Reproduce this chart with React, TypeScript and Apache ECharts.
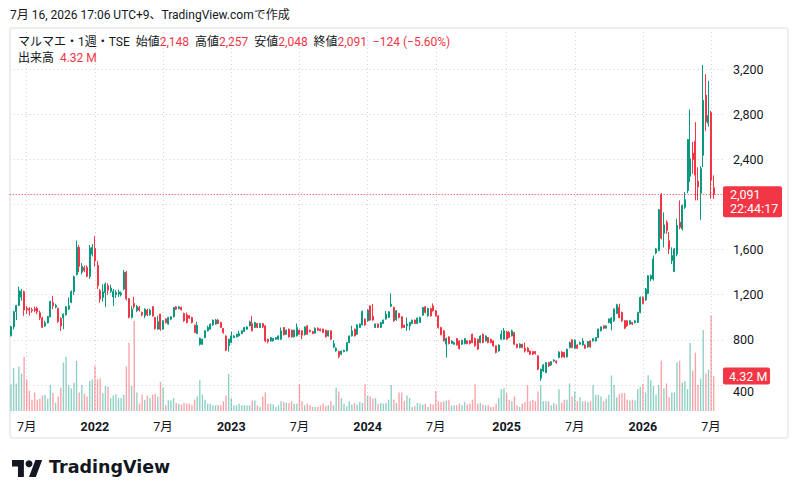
import React, { useEffect, useRef } from "react";
import * as echarts from "echarts";

// ---- data (weekly candles, [open, close, low, high]) ----
const START_DATE = "2021-05-24";
const EMPTY_SLOTS = 3;
const TITLE = "7月 16, 2026 17:06 UTC+9、TradingView.comで作成";
const SYMBOL = "マルマエ・1週・TSE";
const COUNTDOWN = "22:44:17";

const candles: number[][] = [
  [836, 916, 830, 924], [916, 1049, 892, 1058], [1050, 1105, 975, 1111], [1105, 1236, 1100, 1271], [1180, 1230, 1147, 1250],
  [1227, 1064, 1013, 1236], [1080, 1068, 1030, 1100], [1075, 1062, 1015, 1090], [1068, 1058, 1040, 1085], [1075, 1060, 1045, 1095],
  [1080, 1049, 1028, 1093], [1040, 993, 975, 1058], [993, 910, 904, 1005], [924, 951, 915, 969], [951, 1007, 945, 1013],
  [1004, 1141, 1000, 1147], [1132, 1102, 1073, 1191], [1090, 1105, 1080, 1120], [1079, 963, 950, 1085], [990, 924, 880, 1000],
  [993, 1028, 895, 1035], [1022, 1093, 1015, 1100], [1073, 1102, 1065, 1176], [1132, 1227, 1125, 1240], [1227, 1360, 1200, 1370],
  [1380, 1620, 1370, 1680], [1620, 1452, 1400, 1640], [1400, 1452, 1380, 1480], [1440, 1415, 1400, 1460], [1443, 1363, 1355, 1460],
  [1363, 1615, 1340, 1640], [1560, 1620, 1540, 1650], [1610, 1500, 1450, 1718], [1460, 1280, 1250, 1500], [1236, 1162, 1130, 1250],
  [1176, 1227, 1140, 1290], [1220, 1295, 1090, 1310], [1280, 1240, 1200, 1300], [1230, 1260, 1215, 1290], [1180, 1230, 1100, 1250],
  [1200, 1220, 1170, 1240], [1205, 1225, 1180, 1245], [1200, 1215, 1185, 1230], [1250, 1400, 1240, 1420], [1400, 1165, 1150, 1410],
  [1165, 1000, 990, 1170], [998, 1072, 990, 1102], [1123, 1093, 1075, 1182], [1058, 1096, 1045, 1110], [1087, 1064, 1050, 1100],
  [1043, 1022, 1010, 1050], [1013, 1072, 992, 1080], [1064, 1022, 1010, 1075], [1022, 1064, 1015, 1075], [1093, 1013, 1005, 1100],
  [998, 900, 890, 1005], [895, 960, 890, 1013], [1028, 895, 880, 1030], [895, 969, 890, 975], [984, 954, 945, 990],
  [940, 998, 935, 1005], [984, 1004, 975, 1010], [1004, 1087, 1000, 1090], [1093, 1072, 1065, 1100], [1078, 1093, 1070, 1100],
  [1087, 1066, 1060, 1095], [1034, 969, 960, 1040], [1022, 954, 945, 1043], [1013, 993, 985, 1020], [998, 954, 945, 1005],
  [930, 865, 860, 935], [856, 930, 850, 960], [761, 815, 750, 820], [761, 806, 755, 810], [820, 880, 815, 885],
  [880, 910, 875, 925], [895, 939, 890, 945], [933, 975, 925, 980], [940, 975, 935, 985], [975, 945, 940, 985],
  [954, 910, 905, 960], [900, 865, 855, 905], [835, 708, 700, 840], [747, 806, 696, 810], [776, 835, 770, 874],
  [820, 835, 815, 840], [827, 850, 820, 855], [835, 856, 830, 880], [856, 880, 850, 885], [874, 910, 870, 915],
  [895, 915, 890, 920], [924, 960, 920, 970], [945, 880, 875, 1013], [910, 954, 905, 960], [945, 910, 905, 950],
  [910, 945, 905, 950], [945, 915, 905, 950], [924, 791, 780, 930], [806, 785, 770, 810], [791, 820, 785, 825],
  [791, 812, 785, 815], [806, 820, 800, 825], [806, 835, 800, 840], [806, 880, 800, 910], [910, 845, 840, 915],
  [850, 886, 845, 890], [895, 827, 820, 900], [886, 827, 820, 890], [827, 886, 820, 890], [835, 910, 830, 945],
  [886, 850, 845, 890], [880, 841, 805, 885], [845, 915, 840, 920], [924, 850, 845, 930], [886, 874, 865, 890],
  [874, 856, 850, 880], [860, 904, 855, 910], [904, 886, 880, 910], [895, 880, 875, 900], [895, 865, 860, 900],
  [886, 827, 820, 890], [835, 880, 830, 885], [880, 806, 800, 885], [737, 767, 726, 797], [702, 726, 695, 735],
  [697, 652, 637, 705], [672, 702, 665, 705], [696, 708, 690, 712], [702, 776, 698, 780], [776, 835, 770, 840],
  [835, 880, 830, 925], [895, 835, 830, 900], [850, 933, 845, 940], [910, 940, 905, 945], [933, 1052, 928, 1060],
  [984, 933, 925, 990], [969, 1064, 960, 1070], [1102, 975, 970, 1105], [1010, 975, 970, 1117], [910, 940, 905, 945],
  [940, 910, 905, 945], [910, 954, 905, 960], [945, 975, 940, 980], [984, 1028, 980, 1058], [999, 1049, 995, 1055],
  [1099, 1117, 1090, 1212], [1087, 969, 960, 1095], [978, 1058, 970, 1065], [1034, 999, 990, 1040], [1005, 910, 900, 1010],
  [930, 910, 905, 935], [924, 940, 880, 999], [924, 954, 885, 960], [945, 975, 940, 980], [975, 945, 940, 980],
  [945, 993, 940, 998], [954, 999, 950, 1005], [1019, 1087, 1015, 1092], [1093, 1043, 1035, 1100], [1013, 1078, 1005, 1085],
  [1078, 1013, 1005, 1085], [1102, 1058, 1050, 1123], [1058, 1013, 1005, 1065], [1013, 910, 900, 1020], [910, 845, 840, 915],
  [880, 791, 785, 885], [762, 812, 643, 820], [827, 767, 760, 830], [770, 790, 765, 795], [762, 776, 755, 785],
  [812, 755, 750, 815], [791, 723, 715, 795], [762, 797, 755, 800], [767, 812, 760, 815], [791, 767, 760, 795],
  [791, 767, 760, 800], [850, 776, 770, 855], [812, 747, 740, 820], [806, 717, 710, 810], [776, 833, 770, 840],
  [850, 776, 770, 855], [791, 835, 785, 840], [820, 776, 770, 825], [806, 776, 770, 810], [791, 747, 740, 795],
  [747, 688, 680, 750], [702, 755, 695, 760], [806, 850, 800, 885], [806, 880, 800, 905], [870, 806, 800, 880],
  [865, 821, 815, 880], [835, 880, 830, 890], [865, 762, 755, 870], [762, 732, 725, 765], [732, 762, 725, 770],
  [762, 732, 725, 765], [726, 702, 688, 776], [726, 696, 690, 735], [702, 673, 665, 705], [696, 673, 665, 700],
  [696, 680, 670, 700], [658, 540, 530, 665], [460, 540, 436, 545], [524, 578, 515, 585], [510, 598, 505, 605],
  [598, 569, 560, 605], [578, 607, 570, 612], [613, 622, 605, 628], [613, 598, 590, 618], [643, 693, 638, 700],
  [693, 649, 640, 700], [688, 649, 640, 695], [649, 717, 645, 722], [732, 776, 725, 785], [800, 732, 725, 805],
  [726, 797, 720, 805], [755, 726, 720, 760], [762, 776, 755, 785], [755, 791, 750, 815], [755, 726, 720, 760],
  [738, 785, 730, 790], [791, 738, 730, 795], [791, 812, 785, 815], [791, 821, 785, 825], [821, 895, 815, 900],
  [880, 915, 875, 920], [924, 904, 895, 930], [904, 924, 898, 930], [954, 984, 948, 990], [945, 993, 886, 1000],
  [969, 1073, 960, 1080], [1034, 1111, 1030, 1120], [1087, 999, 990, 1120], [1043, 969, 960, 1050], [969, 904, 895, 975],
  [969, 925, 915, 975], [940, 969, 935, 975], [954, 940, 930, 960], [954, 969, 945, 975], [954, 1043, 950, 1050],
  [1043, 1176, 1035, 1185], [1176, 1123, 1115, 1185], [1153, 1250, 1145, 1260], [1212, 1369, 1205, 1375], [1339, 1369, 1320, 1380],
  [1339, 1517, 1325, 1547], [1570, 1606, 1560, 1615], [1591, 1953, 1585, 1960], [2090, 1700, 1690, 2100], [1745, 1820, 1620, 1930],
  [1840, 1770, 1740, 1860], [1680, 1606, 1560, 1755], [1502, 1547, 1473, 1620], [1407, 1606, 1400, 1615], [1560, 1813, 1540, 1873],
  [1843, 1798, 1780, 2036], [1784, 1991, 1770, 2000], [1976, 2042, 1960, 2110], [2124, 2575, 2100, 2580], [2249, 2406, 2200, 2842],
  [2456, 2397, 2273, 2554], [2560, 2260, 2036, 2730], [2207, 2154, 2036, 2330], [2100, 2317, 1864, 2340], [2436, 2924, 2330, 3236],
  [2969, 2732, 2650, 3156], [2720, 2790, 2690, 3096], [2815, 2215, 2050, 2830], [2148, 2091, 2048, 2257],
];

// weekly volume, millions of shares
const volumes: number[] = [
  3.3, 5.3, 3.4, 5.5, 4.6, 6.7, 3.9, 2.5, 1.4, 2.3,
  1.4, 1.5, 1.9, 2.0, 1.5, 3.2, 2.2, 1.0, 1.8, 2.9,
  6.0, 6.7, 3.2, 2.8, 3.5, 6.2, 2.3, 3.2, 2.1, 1.8,
  3.7, 3.9, 5.6, 3.9, 4.0, 2.2, 3.1, 3.0, 1.6, 1.9,
  2.1, 1.6, 1.6, 2.0, 5.5, 8.4, 3.1, 11.1, 2.3, 0.9,
  2.0, 1.4, 1.9, 1.6, 2.0, 2.1, 1.8, 3.6, 2.9, 0.7,
  1.3, 1.3, 1.6, 1.0, 0.9, 0.8, 1.0, 0.9, 0.9, 0.7,
  1.4, 1.8, 3.8, 2.0, 1.4, 0.9, 0.9, 0.7, 0.7, 0.7,
  0.7, 1.2, 1.9, 4.6, 1.6, 0.7, 0.7, 0.9, 0.7, 0.7,
  0.7, 0.7, 1.3, 1.3, 0.7, 0.5, 1.8, 2.3, 0.9, 0.9,
  0.8, 0.5, 0.7, 1.2, 1.1, 1.0, 1.0, 1.2, 0.9, 0.9,
  3.3, 1.2, 0.7, 0.9, 0.7, 0.5, 0.5, 0.5, 0.7, 0.9,
  0.6, 0.7, 1.2, 0.7, 2.9, 2.4, 1.6, 0.9, 0.6, 1.2,
  0.8, 1.0, 0.8, 1.1, 1.0, 3.3, 1.9, 1.8, 1.5, 1.6,
  0.9, 1.0, 0.9, 1.0, 1.4, 3.2, 1.4, 1.0, 2.3, 2.3,
  1.2, 1.9, 1.6, 0.5, 0.6, 1.0, 0.9, 0.8, 0.9, 0.5,
  0.9, 0.8, 2.5, 1.2, 1.1, 1.2, 1.3, 1.4, 0.7, 0.7,
  0.7, 0.9, 0.7, 1.1, 0.8, 0.9, 1.4, 3.3, 0.9, 1.0,
  0.8, 0.7, 0.7, 0.5, 0.5, 0.9, 1.6, 2.7, 2.8, 2.2,
  1.4, 1.2, 1.8, 0.7, 0.5, 0.9, 1.1, 3.2, 1.2, 1.4,
  1.2, 2.4, 3.2, 1.2, 1.2, 1.2, 0.7, 1.0, 0.8, 2.7,
  1.0, 1.4, 1.4, 3.4, 1.8, 2.4, 1.2, 1.7, 1.2, 1.2,
  1.1, 1.2, 3.2, 2.0, 2.0, 1.8, 1.2, 1.5, 2.0, 4.4,
  3.2, 1.7, 2.1, 2.2, 2.2, 1.4, 1.3, 1.4, 1.3, 2.7,
  3.0, 3.3, 2.3, 4.4, 3.8, 3.1, 2.0, 3.2, 6.2, 2.8,
  3.4, 1.7, 2.3, 2.3, 6.0, 6.2, 3.5, 3.7, 2.7, 8.4,
  5.0, 7.2, 3.2, 4.0, 10.0, 4.6, 5.1, 11.8, 4.32,
];

const UP = "#089981";
const DOWN = "#f23645";
const UP_VOL = "rgba(8,153,129,0.45)";
const DOWN_VOL = "rgba(242,54,69,0.45)";
const TEXT = "#131722";
const FONT = "Roboto, 'Noto Sans CJK JP', sans-serif";

echarts.graphic.registerShape(
  "tvLogo",
  echarts.graphic.extendPath("M14 22H7V11H0V4h14v18zM28 22h-8l7.5-18h8L28 22z", {}) as any
);

function buildDates(): string[] {
  const out: string[] = [];
  const d = new Date(START_DATE + "T00:00:00Z");
  const n = candles.length + EMPTY_SLOTS;
  for (let i = 0; i < n; i++) {
    const t = new Date(d.getTime() + i * 7 * 86400000);
    out.push(t.toISOString().slice(0, 10));
  }
  return out;
}

const fmt = (n: number) => n.toLocaleString("en-US");

export default function App() {
  const ref = useRef<HTMLDivElement>(null);
  useEffect(() => {
    const chart = echarts.init(ref.current!, null, { renderer: "svg" });
    const dates = buildDates();
    const isMark = (v: string) => {
      const m = Number(v.slice(5, 7));
      const day = Number(v.slice(8, 10));
      return (m === 1 || m === 7) && day <= 7;
    };
    const candleData: any[] = candles.map((c) => c.slice());
    const volData: any[] = volumes.map((v, i) => ({
      value: v,
      itemStyle: { color: candles[i][1] >= candles[i][0] ? UP_VOL : DOWN_VOL },
    }));
    for (let i = 0; i < EMPTY_SLOTS; i++) {
      candleData.push("-");
      volData.push("-");
    }
    const last = candles[candles.length - 1];
    const prevClose = candles[candles.length - 2][1];
    const lastVol = volumes[volumes.length - 1];
    const diff = last[1] - prevClose;
    const pct = ((Math.abs(diff) / prevClose) * 100).toFixed(2);
    const sign = diff < 0 ? "−" : "+";
    const left = 9.7;
    const right = 75.1;
    const yMin = 400;

    const option: any = {
      animation: false,
      backgroundColor: "#ffffff",
      textStyle: { fontFamily: FONT },
      grid: [
        { left, right, top: 28, bottom: 114 },
        { left, right, top: 28, bottom: 88 },
      ],
      xAxis: [
        {
          type: "category",
          gridIndex: 0,
          data: dates,
          boundaryGap: true,
          axisLine: { show: false },
          axisTick: { show: false },
          axisLabel: { show: false },
          splitLine: { show: false },
        },
        {
          type: "category",
          gridIndex: 1,
          data: dates,
          boundaryGap: true,
          axisLine: { show: false },
          axisTick: { show: false },
          axisLabel: {
            interval: (_i: number, v: string) => isMark(v),
            formatter: (v: string) => {
              if (!isMark(v)) return "";
              const m = Number(v.slice(5, 7));
              return m === 1 ? `{b|${v.slice(0, 4)}}` : "{n|7月}";
            },
            margin: 9,
            rich: {
              b: { fontSize: 12.5, fontWeight: "bold", color: TEXT, fontFamily: FONT },
              n: { fontSize: 12.5, color: TEXT, fontFamily: FONT },
            },
          },
          splitLine: {
            show: true,
            alignWithLabel: true,
            interval: (_i: number, v: string) => isMark(v),
            lineStyle: { color: "#cfd2d8", type: [1, 3], width: 1 },
          },
        },
      ],
      yAxis: [
        {
          type: "value",
          gridIndex: 0,
          position: "right",
          min: yMin,
          max: 3564,
          interval: 400,
          axisLine: { show: false },
          axisTick: { show: false },
          axisLabel: {
            showMaxLabel: false,
            margin: 10,
            color: TEXT,
            fontSize: 12.5,
            fontFamily: FONT,
            // the last-price tag covers the tick label next to it;
            // the lowest label peeks out just below the volume tag
            formatter: (v: number) => {
              if (v % 400 !== 0 || Math.abs(v - last[1]) <= 150) return "";
              return v === yMin ? `{lo|${fmt(v)}}` : fmt(v);
            },
            rich: {
              lo: { fontSize: 12.5, color: TEXT, fontFamily: FONT, padding: [13, 0, 0, 0] },
            },
          },
          splitLine: { show: true, lineStyle: { color: "#cfd2d8", type: [1, 3], width: 1 } },
        },
        { type: "value", gridIndex: 1, min: 0, max: 47.3, show: false },
      ],
      series: [
        {
          type: "bar",
          xAxisIndex: 1,
          yAxisIndex: 1,
          data: volData,
          barWidth: 1.4,
          silent: true,
          z: 1,
        },
        {
          type: "candlestick",
          xAxisIndex: 0,
          yAxisIndex: 0,
          data: candleData,
          barWidth: 1.5,
          z: 3,
          itemStyle: {
            color: UP,
            color0: DOWN,
            borderColor: UP,
            borderColor0: DOWN,
            borderWidth: 1,
          },
          markLine: {
            silent: true,
            symbol: ["none", "none"],
            label: { show: false },
            lineStyle: { color: DOWN, type: [1, 2], width: 1 },
            data: [{ yAxis: last[1] }],
          },
        },
      ],
    };
    chart.setOption(option);

    const yP = chart.convertToPixel({ yAxisIndex: 0 } as any, last[1]) as number;
    const yV = chart.convertToPixel({ yAxisIndex: 1 } as any, lastVol) as number;
    const legend =
      `{k|${SYMBOL}  始値}{r|${fmt(last[0])}}{k|  高値}{r|${fmt(last[3])}}` +
      `{k|  安値}{r|${fmt(last[2])}}{k|  終値}{r|${fmt(last[1])}}` +
      `{r|  ${sign}${Math.abs(diff)} (${sign}${pct}%)}`;
    const rich = {
      k: { fill: TEXT, fontSize: 12, fontFamily: FONT },
      r: { fill: DOWN, fontSize: 12, fontFamily: FONT },
    };
    const logoScaleX = 0.85;
    const logoScaleY = 0.94;
    const logoX = 12;
    const logoY = 456.2;

    chart.setOption({
      graphic: [
        {
          type: "rect",
          silent: true,
          z: 0,
          shape: { x: 10, y: 28, width: 778, height: 410, r: 3 },
          style: { fill: "rgba(0,0,0,0)", stroke: "#eceef2", lineWidth: 2 },
        },
        {
          type: "text",
          x: 10,
          y: 15,
          style: { text: TITLE, fill: TEXT, fontSize: 12, fontFamily: FONT, verticalAlign: "middle" },
        },
        {
          type: "text",
          x: 18,
          y: 42,
          style: { text: legend, rich, verticalAlign: "middle", fontSize: 12, fontFamily: FONT },
        },
        {
          type: "text",
          x: 18,
          y: 58,
          style: {
            text: `{k|出来高  }{r|${lastVol.toFixed(2)} M}`,
            rich,
            verticalAlign: "middle",
            fontSize: 12,
            fontFamily: FONT,
          },
        },
        {
          type: "rect",
          z: 10,
          shape: { x: 723, y: yP - 8, width: 59, height: 31, r: 2 },
          style: { fill: DOWN },
        },
        {
          type: "text",
          z: 11,
          x: 730,
          y: yP,
          style: { text: fmt(last[1]), fill: "#fff", fontSize: 12.5, fontFamily: FONT, verticalAlign: "middle" },
        },
        {
          type: "text",
          z: 11,
          x: 730,
          y: yP + 14,
          style: { text: COUNTDOWN, fill: "#fff", fontSize: 12.5, fontFamily: FONT, verticalAlign: "middle" },
        },
        {
          type: "rect",
          z: 10,
          shape: { x: 723, y: yV - 8.5, width: 47, height: 17, r: 2 },
          style: { fill: DOWN },
        },
        {
          type: "text",
          z: 11,
          x: 729,
          y: yV,
          style: {
            text: `${lastVol.toFixed(2)} M`,
            fill: "#fff",
            fontSize: 12.5,
            fontFamily: FONT,
            verticalAlign: "middle",
          },
        },
        {
          type: "tvLogo",
          x: logoX,
          y: logoY,
          scaleX: logoScaleX,
          scaleY: logoScaleY,
          style: { fill: TEXT },
        },
        {
          type: "circle",
          shape: { cx: logoX + 20 * logoScaleX, cy: logoY + 8 * logoScaleY, r: 3.5 },
          style: { fill: TEXT },
        },
        {
          type: "text",
          x: 49,
          y: 467,
          style: {
            text: "TradingView",
            fill: TEXT,
            fontSize: 17.5,
            fontWeight: "bold",
            fontFamily: "'DejaVu Sans', sans-serif",
            verticalAlign: "middle",
          },
        },
      ],
    });

    return () => chart.dispose();
  }, []);
  return (
    <div
      ref={ref}
      style={{ position: "fixed", left: 0, top: 0, width: 798, height: 499, background: "#fff" }}
    />
  );
}
